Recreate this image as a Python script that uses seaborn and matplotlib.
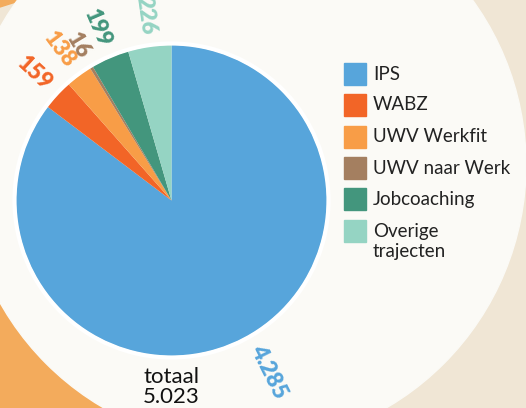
import matplotlib
matplotlib.use("Agg")
import matplotlib.pyplot as plt
import numpy as np
import seaborn as sns
from matplotlib.patches import Circle, Polygon

# Data
trajecten = ["IPS", "WABZ", "UWV Werkfit", "UWV naar Werk", "Jobcoaching", "Overige\ntrajecten"]
aantallen = [4285, 159, 138, 16, 199, 226]
value_labels = ["4.285", "159", "138", "16", "199", "226"]
totaal_label = "totaal\n5.023"

colors = sns.color_palette(["#57A5DB", "#F26527", "#F89D47", "#A47F60", "#43967D", "#95D4C3"])

sns.set_style("white")
plt.rcParams["font.family"] = ["Lato", "DejaVu Sans"]

W, H = 526, 408
fig = plt.figure(figsize=(W / 100, H / 100), dpi=100)
fig.patch.set_facecolor("#F0E6D5")
ax = fig.add_axes([0, 0, 1, 1])
ax.set_facecolor("#F0E6D5")


def py(y):
    # pixel row (from top) -> data y
    return H - y


# background shapes
ax.add_patch(Polygon([(0, py(300)), (60, py(330)), (120, py(408)), (0, py(408))],
                     closed=True, color="#F3AB5C", zorder=0))
ax.add_patch(Polygon([(0, py(0)), (22, py(0)), (0, py(7))], closed=True, color="#F3AB5C", zorder=0))
ax.add_patch(Circle((245, py(165)), 281, color="#FBFAF6", zorder=1))

# pie
cx, cy, R = 171.5, py(200.5), 155.5
wedges, _ = ax.pie(aantallen, colors=colors, startangle=90, counterclock=False,
                   center=(cx, cy), radius=R, wedgeprops=dict(linewidth=0, zorder=3),
                   frame=True)
ax.add_patch(Circle((cx, cy), R + 1.5, facecolor="none", edgecolor="white", linewidth=3, zorder=4))

# value labels, radial
for w, lab, col in zip(wedges, value_labels, colors):
    theta = np.deg2rad((w.theta1 + w.theta2) / 2)
    r0 = R * 1.08
    x = cx + r0 * np.cos(theta)
    y = cy + r0 * np.sin(theta)
    deg = np.rad2deg(theta)
    if np.cos(theta) >= 0:
        rot, ha, va = deg, "left", "bottom"
    else:
        rot, ha, va = deg - 180, "right", "center"
    ax.text(x, y, lab, color=col, fontsize=16, fontweight="heavy", rotation=rot,
            rotation_mode="anchor", ha=ha, va=va, zorder=5)

# legend drawn by hand
leg_y = [74, 105, 137, 168, 199, 231]
for yy, lab, col in zip(leg_y, trajecten, colors):
    ax.add_patch(plt.Rectangle((344, py(yy + 11)), 22, 22, color=col, zorder=5))
    ax.text(373, py(yy), lab.split("\n")[0], fontsize=13.5, color="#222222",
            ha="left", va="center", zorder=5)
    if "\n" in lab:
        ax.text(373, py(yy + 20), lab.split("\n")[1], fontsize=13.5, color="#222222",
                ha="left", va="center", zorder=5)

ax.text(cx, py(387), totaal_label, fontsize=16, color="#111111", ha="center",
        va="center", linespacing=1.0, zorder=5)

ax.set_xlim(0, W)
ax.set_ylim(0, H)
ax.set_aspect("auto")
ax.axis("off")

fig.savefig("out.png", dpi=100, facecolor=fig.get_facecolor())
